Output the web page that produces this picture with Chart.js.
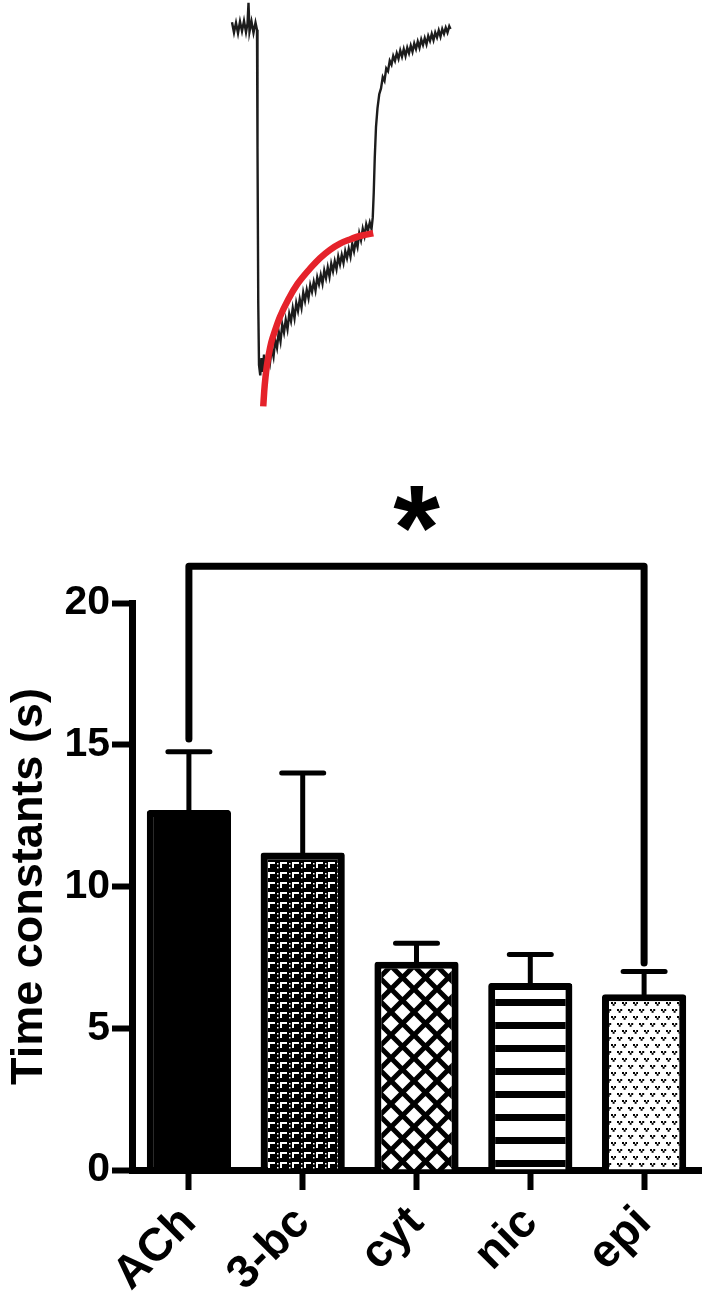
<!DOCTYPE html>
<html>
<head>
<meta charset="utf-8">
<script src="https://cdn.jsdelivr.net/npm/chart.js@4.4.1/dist/chart.umd.min.js"></script>
<style>
  html, body { margin: 0; padding: 0; background: #fff; }
  #wrap { position: relative; width: 709px; height: 1302px; }
  #bars { position: absolute; left: 0; top: 0; }
  #trace { position: absolute; left: 230px; top: 0; }
</style>
</head>
<body>
<div id="wrap">
  <canvas id="bars" width="709" height="1302"></canvas>
  <canvas id="trace" width="225" height="415"></canvas>
</div>
<script>
// bar chart data
const categories = ["ACh", "3-bc", "cyt", "nic", "epi"];
const meanTau = [12.7, 11.2, 7.35, 6.6, 6.2];
const semTau = [2.05, 2.8, 0.65, 1.0, 0.8];
const yTicks = [0, 5, 10, 15, 20];

// significance bracket between ACh and epi (values in seconds)
const bracketPair = [0, 4];
const bracketTop = 21.3;
const bracketFeet = [15.2, 7.3];
const starLevel = 23.35;

// example current trace (time in s, current in % of peak)
const traceTime = [
  0.8, 1.6, 2.4, 3.2, 4.0, 4.8, 5.6, 6.4, 7.0, 7.4, 7.8, 8.6, 9.4, 10.2, 10.8,
  11.0, 11.3, 11.6, 12.1, 12.6, 13.1, 13.6, 14.1, 14.6,
  15.3, 16.0, 16.7, 17.4, 18.1, 18.8, 19.5, 20.2, 20.9, 21.6, 22.3, 23.0, 23.7, 24.4,
  25.1, 25.8, 26.5, 27.2, 27.9, 28.6, 29.3, 30.0, 30.7, 31.4, 32.1, 32.8, 33.5, 34.2,
  34.9, 35.6, 36.3, 37.0, 37.7, 38.4, 39.1, 39.8, 40.5, 41.2, 41.9, 42.6, 43.3, 44.0,
  44.7, 45.4, 46.1, 46.8, 47.5, 48.2, 48.9, 49.6, 50.3, 51.0, 51.7, 52.4, 53.1, 53.8,
  54.5, 55.2, 55.9, 56.6, 57.1,
  57.5, 57.9, 58.4, 59.0, 59.7, 60.4, 61.1, 61.8, 62.5, 63.2, 63.9, 64.6, 65.3, 66.0,
  66.7, 67.4, 68.1, 68.8, 69.5, 70.2, 70.9, 71.6, 72.3, 73.0, 73.7, 74.4, 75.1, 75.8,
  76.5, 77.2, 77.9, 78.6, 79.3, 80.0, 80.7, 81.4, 82.1, 82.8, 83.5, 84.2, 84.9, 85.6,
  86.3, 87.0, 87.7, 88.2
];
const traceCurrent = [
  1.4, -1.6, 1.2, -1.8, 1.6, -1.2, 1.8, -1.5, 1.0, 7.0, -1.4, 1.6, -1.7, 1.3, -0.8,
  -35, -80, -98, -101, -96, -100, -95, -99, -96.5,
  -94.8, -97.4, -93.2, -95.6, -90.8, -93.0, -88.4, -91.2, -86.2, -88.6, -84.9, -87.6, -83.2, -85.3,
  -81.5, -84.4, -80.0, -82.3, -78.9, -81.4, -77.0, -79.4, -76.2, -78.6, -74.8, -76.8, -73.9, -76.4,
  -72.6, -74.6, -71.9, -74.4, -70.6, -72.8, -69.7, -72.4, -68.6, -70.8, -67.9, -70.2, -66.6, -68.8,
  -66.1, -68.4, -65.0, -67.0, -64.3, -66.6, -62.8, -65.0, -61.9, -63.8, -59.8, -61.8, -58.5, -60.6,
  -57.2, -59.0, -56.7, -58.6, -55.2,
  -48, -38, -29, -23.5, -19.5, -17.8, -14.5, -15.6, -12.0, -12.8, -9.8, -10.9, -8.4, -9.8,
  -7.6, -9.2, -6.8, -8.6, -6.4, -8.4, -6.0, -7.6, -5.4, -7.2, -4.8, -6.4, -4.2, -6.0,
  -3.6, -5.2, -3.2, -5.0, -2.6, -4.0, -2.0, -3.8, -1.6, -3.0, -1.0, -2.8, -0.6, -2.0,
  -0.2, -1.6, 0.2, -0.6
];
// single exponential fit of the recovery phase
const fitTime = [13.3, 13.7, 14.2, 14.7, 15.5, 16.5, 18, 20, 23.3, 27, 32.7, 36, 40, 44, 48, 52, 57.3];
const fitCurrent = [-110, -105.5, -101.5, -98.5, -95, -91.5, -88, -84, -79, -74.5, -69.5, -67.0, -64.6, -62.8, -61.6, -60.6, -59.8];

const FONT = "'Liberation Sans', Arial, sans-serif";

function tile(w, h, draw) {
    const c = document.createElement("canvas");
    c.width = w;
    c.height = h;
    draw(c.getContext("2d"), w, h);
    return document.createElement("canvas").getContext("2d").createPattern(c, "repeat");
}

const fills = [
    "#000",
    tile(12, 10, (g) => {
        g.fillStyle = "#000";
        g.fillRect(0, 0, 12, 10);
        g.fillStyle = "#fff";
        g.fillRect(4, 2, 7, 2);
        g.fillRect(4, 2, 2, 6);
        g.fillRect(1, 3, 1.5, 1.5);
        g.fillRect(1, 7, 1.5, 1.5);
    }),
    tile(23, 23, (g, w, h) => {
        g.fillStyle = "#fff";
        g.fillRect(0, 0, w, h);
        g.strokeStyle = "#000";
        g.lineWidth = 5;
        g.beginPath();
        for (const o of [-w, 0, w]) {
            g.moveTo(o, 0);
            g.lineTo(o + w, h);
            g.moveTo(o + w, 0);
            g.lineTo(o, h);
        }
        g.stroke();
    }),
    tile(4, 23, (g, w, h) => {
        g.fillStyle = "#fff";
        g.fillRect(0, 0, w, h);
        g.fillStyle = "#000";
        g.fillRect(0, 10, w, 7);
    }),
    tile(11, 14, (g, w, h) => {
        g.fillStyle = "#fff";
        g.fillRect(0, 0, w, h);
        g.fillStyle = "#000";
        for (const [x, y] of [[1, 1], [6, 8]]) {
            g.fillRect(x, y, 2, 2);
            g.fillRect(x + 3.2, y, 2, 2);
            g.fillRect(x + 1.6, y + 1.8, 2, 2);
        }
    }),
];

const errorBars = {
    id: "errorBars",
    afterDatasetsDraw(chart) {
        const { ctx } = chart;
        const y = chart.scales.y;
        const meta = chart.getDatasetMeta(0);
        ctx.save();
        ctx.strokeStyle = "#000";
        ctx.lineWidth = 5;
        ctx.lineCap = "round";
        meta.data.forEach((bar, i) => {
            const top = y.getPixelForValue(meanTau[i] + semTau[i]);
            ctx.beginPath();
            ctx.moveTo(bar.x, bar.y);
            ctx.lineTo(bar.x, top);
            ctx.moveTo(bar.x - 21, top);
            ctx.lineTo(bar.x + 21, top);
            ctx.stroke();
        });
        ctx.restore();
    },
};

const bracket = {
    id: "bracket",
    afterDraw(chart) {
        const { ctx } = chart;
        const y = chart.scales.y;
        const meta = chart.getDatasetMeta(0);
        const xa = meta.data[bracketPair[0]].x;
        const xb = meta.data[bracketPair[1]].x;
        const yt = y.getPixelForValue(bracketTop);
        ctx.save();
        ctx.strokeStyle = "#000";
        ctx.lineWidth = 7;
        ctx.lineCap = "round";
        ctx.lineJoin = "round";
        ctx.beginPath();
        ctx.moveTo(xa, y.getPixelForValue(bracketFeet[0]));
        ctx.lineTo(xa, yt);
        ctx.lineTo(xb, yt);
        ctx.lineTo(xb, y.getPixelForValue(bracketFeet[1]));
        ctx.stroke();

        ctx.fillStyle = "#000";
        ctx.font = "bold 120px " + FONT;
        ctx.textAlign = "center";
        ctx.textBaseline = "alphabetic";
        const m = ctx.measureText("*");
        const ys = y.getPixelForValue(starLevel);
        const off = (m.actualBoundingBoxAscent - m.actualBoundingBoxDescent) / 2;
        ctx.fillText("*", (xa + xb) / 2, ys + off);
        ctx.restore();
    },
};

new Chart(document.getElementById("bars"), {
    type: "bar",
    data: {
        labels: categories,
        datasets: [
            {
                data: meanTau,
                backgroundColor: fills,
                borderColor: "#000",
                borderWidth: 7,
                borderSkipped: "start",
                borderRadius: 3,
                barPercentage: 0.74,
                categoryPercentage: 1,
            },
        ],
    },
    options: {
        responsive: false,
        animation: false,
        layout: { padding: { top: 603, right: 8, left: 0, bottom: 0 } },
        plugins: { legend: { display: false }, tooltip: { enabled: false } },
        scales: {
            x: {
                grid: {
                    display: true,
                    drawOnChartArea: false,
                    offset: false,
                    tickLength: 20,
                    tickWidth: 6,
                    tickColor: "#000",
                },
                border: { color: "#000", width: 7 },
                ticks: {
                    color: "#000",
                    autoSkip: false,
                    minRotation: 45,
                    maxRotation: 45,
                    padding: 6,
                    font: { family: FONT, size: 46, weight: "bold" },
                },
                afterFit: (s) => {
                    s.height = 132;
                },
            },
            y: {
                min: yTicks[0],
                max: yTicks[yTicks.length - 1],
                afterBuildTicks: (s) => {
                    s.ticks = yTicks.map((v) => ({ value: v }));
                },
                grid: {
                    display: true,
                    drawOnChartArea: false,
                    tickLength: 20,
                    tickWidth: 6,
                    tickColor: "#000",
                },
                border: { color: "#000", width: 7 },
                ticks: {
                    color: "#000",
                    padding: 2,
                    font: { family: FONT, size: 41, weight: "bold" },
                },
                title: {
                    display: true,
                    text: "Time constants (s)",
                    color: "#000",
                    padding: { top: 3, bottom: 0 },
                    font: { family: FONT, size: 45, weight: "bold" },
                },
                afterFit: (s) => {
                    s.width = 132;
                },
            },
        },
    },
    plugins: [errorBars, bracket],
});

new Chart(document.getElementById("trace"), {
    type: "scatter",
    data: {
        datasets: [
            {
                data: fitTime.map((t, i) => ({ x: t, y: fitCurrent[i] })),
                showLine: true,
                borderColor: "#e5222a",
                borderWidth: 6.5,
                pointRadius: 0,
                cubicInterpolationMode: "monotone",
            },
            {
                data: traceTime.map((t, i) => ({ x: t, y: traceCurrent[i] })),
                showLine: true,
                borderColor: "#1c1c1c",
                borderWidth: 2.4,
                pointRadius: 0,
                tension: 0,
            },
        ],
    },
    options: {
        responsive: false,
        animation: false,
        clip: false,
        layout: { padding: 0 },
        plugins: { legend: { display: false }, tooltip: { enabled: false } },
        scales: {
            x: { display: false, min: 0, max: 90 },
            y: { display: false, min: -112.5, max: 7.83 },
        },
    },
});
</script>
</body>
</html>
